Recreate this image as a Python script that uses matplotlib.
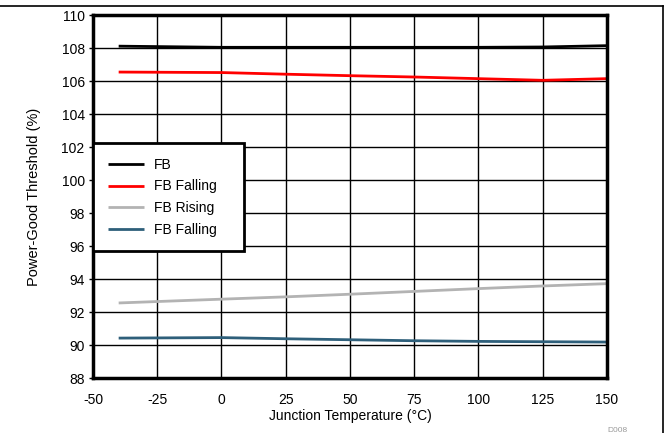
import matplotlib
matplotlib.use("Agg")
import matplotlib.pyplot as plt
from matplotlib.lines import Line2D

plt.rcParams['font.family'] = ['Liberation Sans', 'DejaVu Sans']
plt.rcParams['axes.unicode_minus'] = False

temps = [-40, 0, 25, 50, 75, 100, 125, 150]
fb = [108.12, 108.05, 108.05, 108.05, 108.05, 108.05, 108.07, 108.15]
fb_falling = [106.55, 106.52, 106.42, 106.33, 106.25, 106.15, 106.05, 106.15]
fb_rising = [92.55, 92.78, 92.92, 93.08, 93.25, 93.42, 93.58, 93.72]
fb_falling2 = [90.42, 90.45, 90.38, 90.32, 90.26, 90.22, 90.2, 90.18]

series = [
    ("FB", fb, "#000000"),
    ("FB Falling", fb_falling, "#ff0000"),
    ("FB Rising", fb_rising, "#b3b3b3"),
    ("FB Falling", fb_falling2, "#2e5f7a"),
]

xticks = [-50, -25, 0, 25, 50, 75, 100, 125, 150]
yticks = list(range(88, 111, 2))

fig = plt.figure(figsize=(6.69, 4.33), dpi=100)
ax = fig.add_axes([0.139, 0.127, 0.768, 0.838])

for name, vals, col in series:
    ax.plot(temps, vals, color=col, lw=2.0, label=name, solid_capstyle='butt')

ax.set_xlim(-50, 150)
ax.set_ylim(88, 110)
ax.set_xticks(xticks)
ax.set_xticklabels([str(t) for t in xticks])
ax.set_yticks(yticks)
ax.grid(True, color='#000000', lw=1.0)
ax.set_axisbelow(True)
for s in ax.spines.values():
    s.set_linewidth(2.5)
ax.tick_params(axis='y', direction='out', length=3, width=1, labelsize=10, pad=3)
ax.tick_params(axis='x', direction='out', length=0, width=1, labelsize=10, pad=11)

ax.set_xlabel("Junction Temperature (°C)", fontsize=10, labelpad=1)
ax.set_ylabel("Power-Good Threshold (%)", fontsize=10.5, labelpad=15)

leg = ax.legend(loc='upper left', bbox_to_anchor=(0.0, 0.647, 0.294, 0.0),
                mode='expand', fontsize=10,
                frameon=True, fancybox=False, edgecolor='#000000',
                framealpha=1, handlelength=2.6, handletextpad=0.72,
                borderpad=1.05, labelspacing=0.55, borderaxespad=0.0)
leg.get_frame().set_linewidth(2.0)

fig.text(0.923, 0.002, "D008", fontsize=6, color='#999999', ha='center')

fig.add_artist(Line2D([0, 0.991], [0.986, 0.986], color='black', lw=1.2, transform=fig.transFigure))
fig.add_artist(Line2D([0.991, 0.991], [0.0, 0.986], color='black', lw=1.2, transform=fig.transFigure))

fig.savefig("out.png", dpi=100)
